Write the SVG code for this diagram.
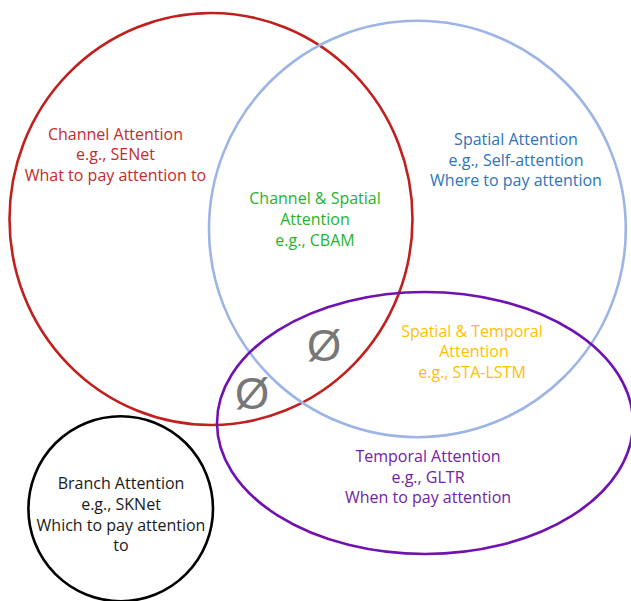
<svg xmlns="http://www.w3.org/2000/svg" width="631" height="601" viewBox="0 0 631 601">
  <style>
    .set { fill: none; stroke-width: 2.6; }
    .lbl { font-family: "Open Sans", "Noto Sans", "Liberation Sans", sans-serif; font-size: 16px; text-anchor: middle; }
    .empty { font-family: "Liberation Sans", "DejaVu Sans", sans-serif; font-size: 44px; fill: #777777; text-anchor: middle; }
  </style>
  <rect width="631" height="601" fill="#ffffff"/>
  <g id="channel">
    <ellipse class="set" cx="211" cy="219" rx="201.5" ry="206" stroke="#c0201e"/>
    <text class="lbl" fill="#c42b2b"><tspan x="115.5" y="139.5">Channel Attention</tspan><tspan x="115.5" y="160.2">e.g., SENet</tspan><tspan x="115.5" y="181">What to pay attention to</tspan></text>
  </g>
  <g id="spatial">
    <ellipse class="set" cx="417.4" cy="229" rx="208.4" ry="208.2" stroke="#9db4e6"/>
    <text class="lbl" fill="#2f74b8"><tspan x="516" y="145">Spatial Attention</tspan><tspan x="516" y="165.7">e.g., Self-attention</tspan><tspan x="516" y="186.3">Where to pay attention</tspan></text>
  </g>
  <g id="temporal">
    <ellipse class="set" cx="425" cy="423" rx="208" ry="131" stroke="#7012b2"/>
    <text class="lbl" fill="#7322a8"><tspan x="428" y="461.7">Temporal Attention</tspan><tspan x="428" y="482.5">e.g., GLTR</tspan><tspan x="428" y="503.3">When to pay attention</tspan></text>
  </g>
  <g id="branch">
    <ellipse class="set" cx="120.7" cy="508.7" rx="92.3" ry="92.5" stroke="#000000"/>
    <text class="lbl" fill="#1a1a1a"><tspan x="121" y="489.3">Branch Attention</tspan><tspan x="121" y="510">e.g., SKNet</tspan><tspan x="121" y="530.7">Which to pay attention</tspan><tspan x="121" y="550.5">to</tspan></text>
  </g>
  <g id="channel-spatial">
    <text class="lbl" fill="#1fb52c"><tspan x="315" y="204">Channel &amp; Spatial</tspan><tspan x="315" y="225">Attention</tspan><tspan x="315" y="246">e.g., CBAM</tspan></text>
  </g>
  <g id="spatial-temporal">
    <text class="lbl" fill="#ffc000"><tspan x="472" y="336.7">Spatial &amp; Temporal</tspan><tspan x="474" y="357">Attention</tspan><tspan x="472" y="378">e.g., STA-LSTM</tspan></text>
  </g>
  <g id="empty-sets">
    <text class="empty" x="324" y="361">Ø</text>
    <text class="empty" x="252" y="409">Ø</text>
  </g>
  <g id="connectors"/>
</svg>
